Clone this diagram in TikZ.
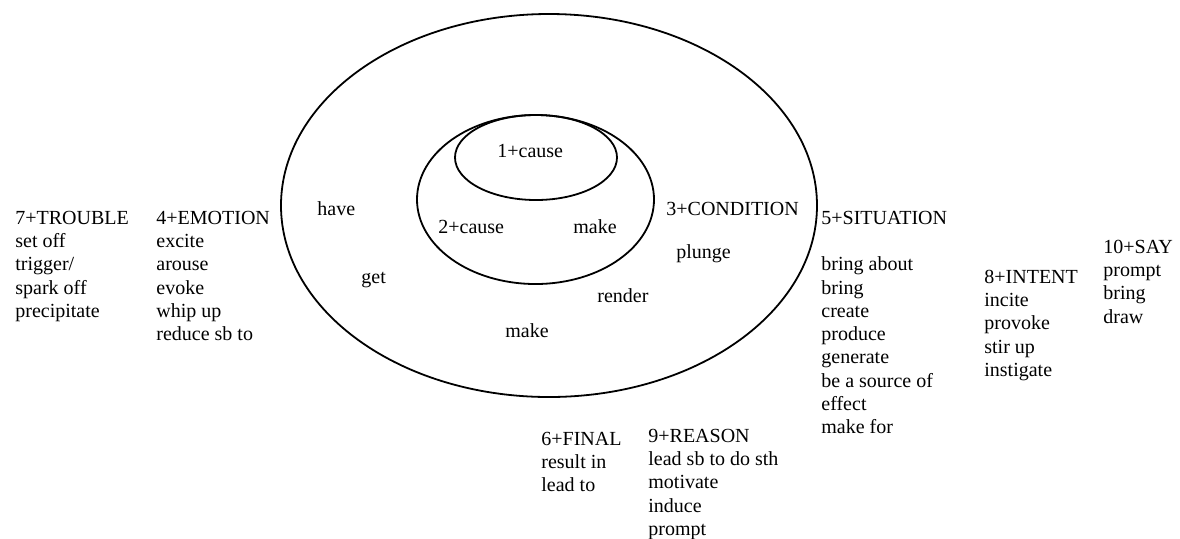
\documentclass[tikz,border=0pt]{standalone}
\usepackage{fontspec}
\setmainfont{Liberation Serif}
\usetikzlibrary{positioning}

\begin{document}
\begin{tikzpicture}[x=0.5pt, y=-0.5pt,
    every node/.style={inner sep=0pt, anchor=base west, align=left, font=\fontsize{10}{11.65}\selectfont},
    wordlist/.style={anchor=north west}]
    \useasboundingbox (0,0) rectangle (1180,538);

    \draw[line width=0.9pt] (549,205.5) ellipse [x radius=268, y radius=191.5];
    \draw[line width=0.9pt] (535.5,199.5) ellipse [x radius=118.5, y radius=84.5];
    \draw[line width=0.9pt] (536,157.5) ellipse [x radius=81, y radius=42.5];

    \node (cause1) at (497,157) {1+cause};
    \node (cause2) at (438,233) {2+cause};
    \node (make1) at (573,233) {make};
    \node (have) at (317,215) {have};
    \node (get) at (361,283) {get};
    \node (condition) at (666,215) {3+CONDITION};
    \node (plunge) at (676,258) {plunge};
    \node (render) at (597,302) {render};
    \node (make2) at (505,337) {make};

    % lists: top of first line = baseline - 13.5
    \node[wordlist] (trouble) at (15,210.5) {7+TROUBLE\\set off\\trigger/\\spark off\\precipitate};
    \node[wordlist] (emotion) at (156,210.5) {4+EMOTION\\excite\\arouse\\evoke\\whip up\\reduce sb to};
    \node[wordlist] (situation) at (821,210.5) {5+SITUATION\\[11.65pt]bring about\\bring\\create\\produce\\generate\\be a source of\\effect\\make for};
    \node[wordlist] (intent) at (984,269.5) {8+INTENT\\incite\\provoke\\stir up\\instigate};
    \node[wordlist] (say) at (1103,239.5) {10+SAY\\prompt\\bring\\draw};
    \node[wordlist] (final) at (541,431.5) {6+FINAL\\result in\\lead to};
    \node[wordlist] (reason) at (648,428.5) {9+REASON\\lead sb to do sth\\motivate\\induce\\prompt};
\end{tikzpicture}
\end{document}
